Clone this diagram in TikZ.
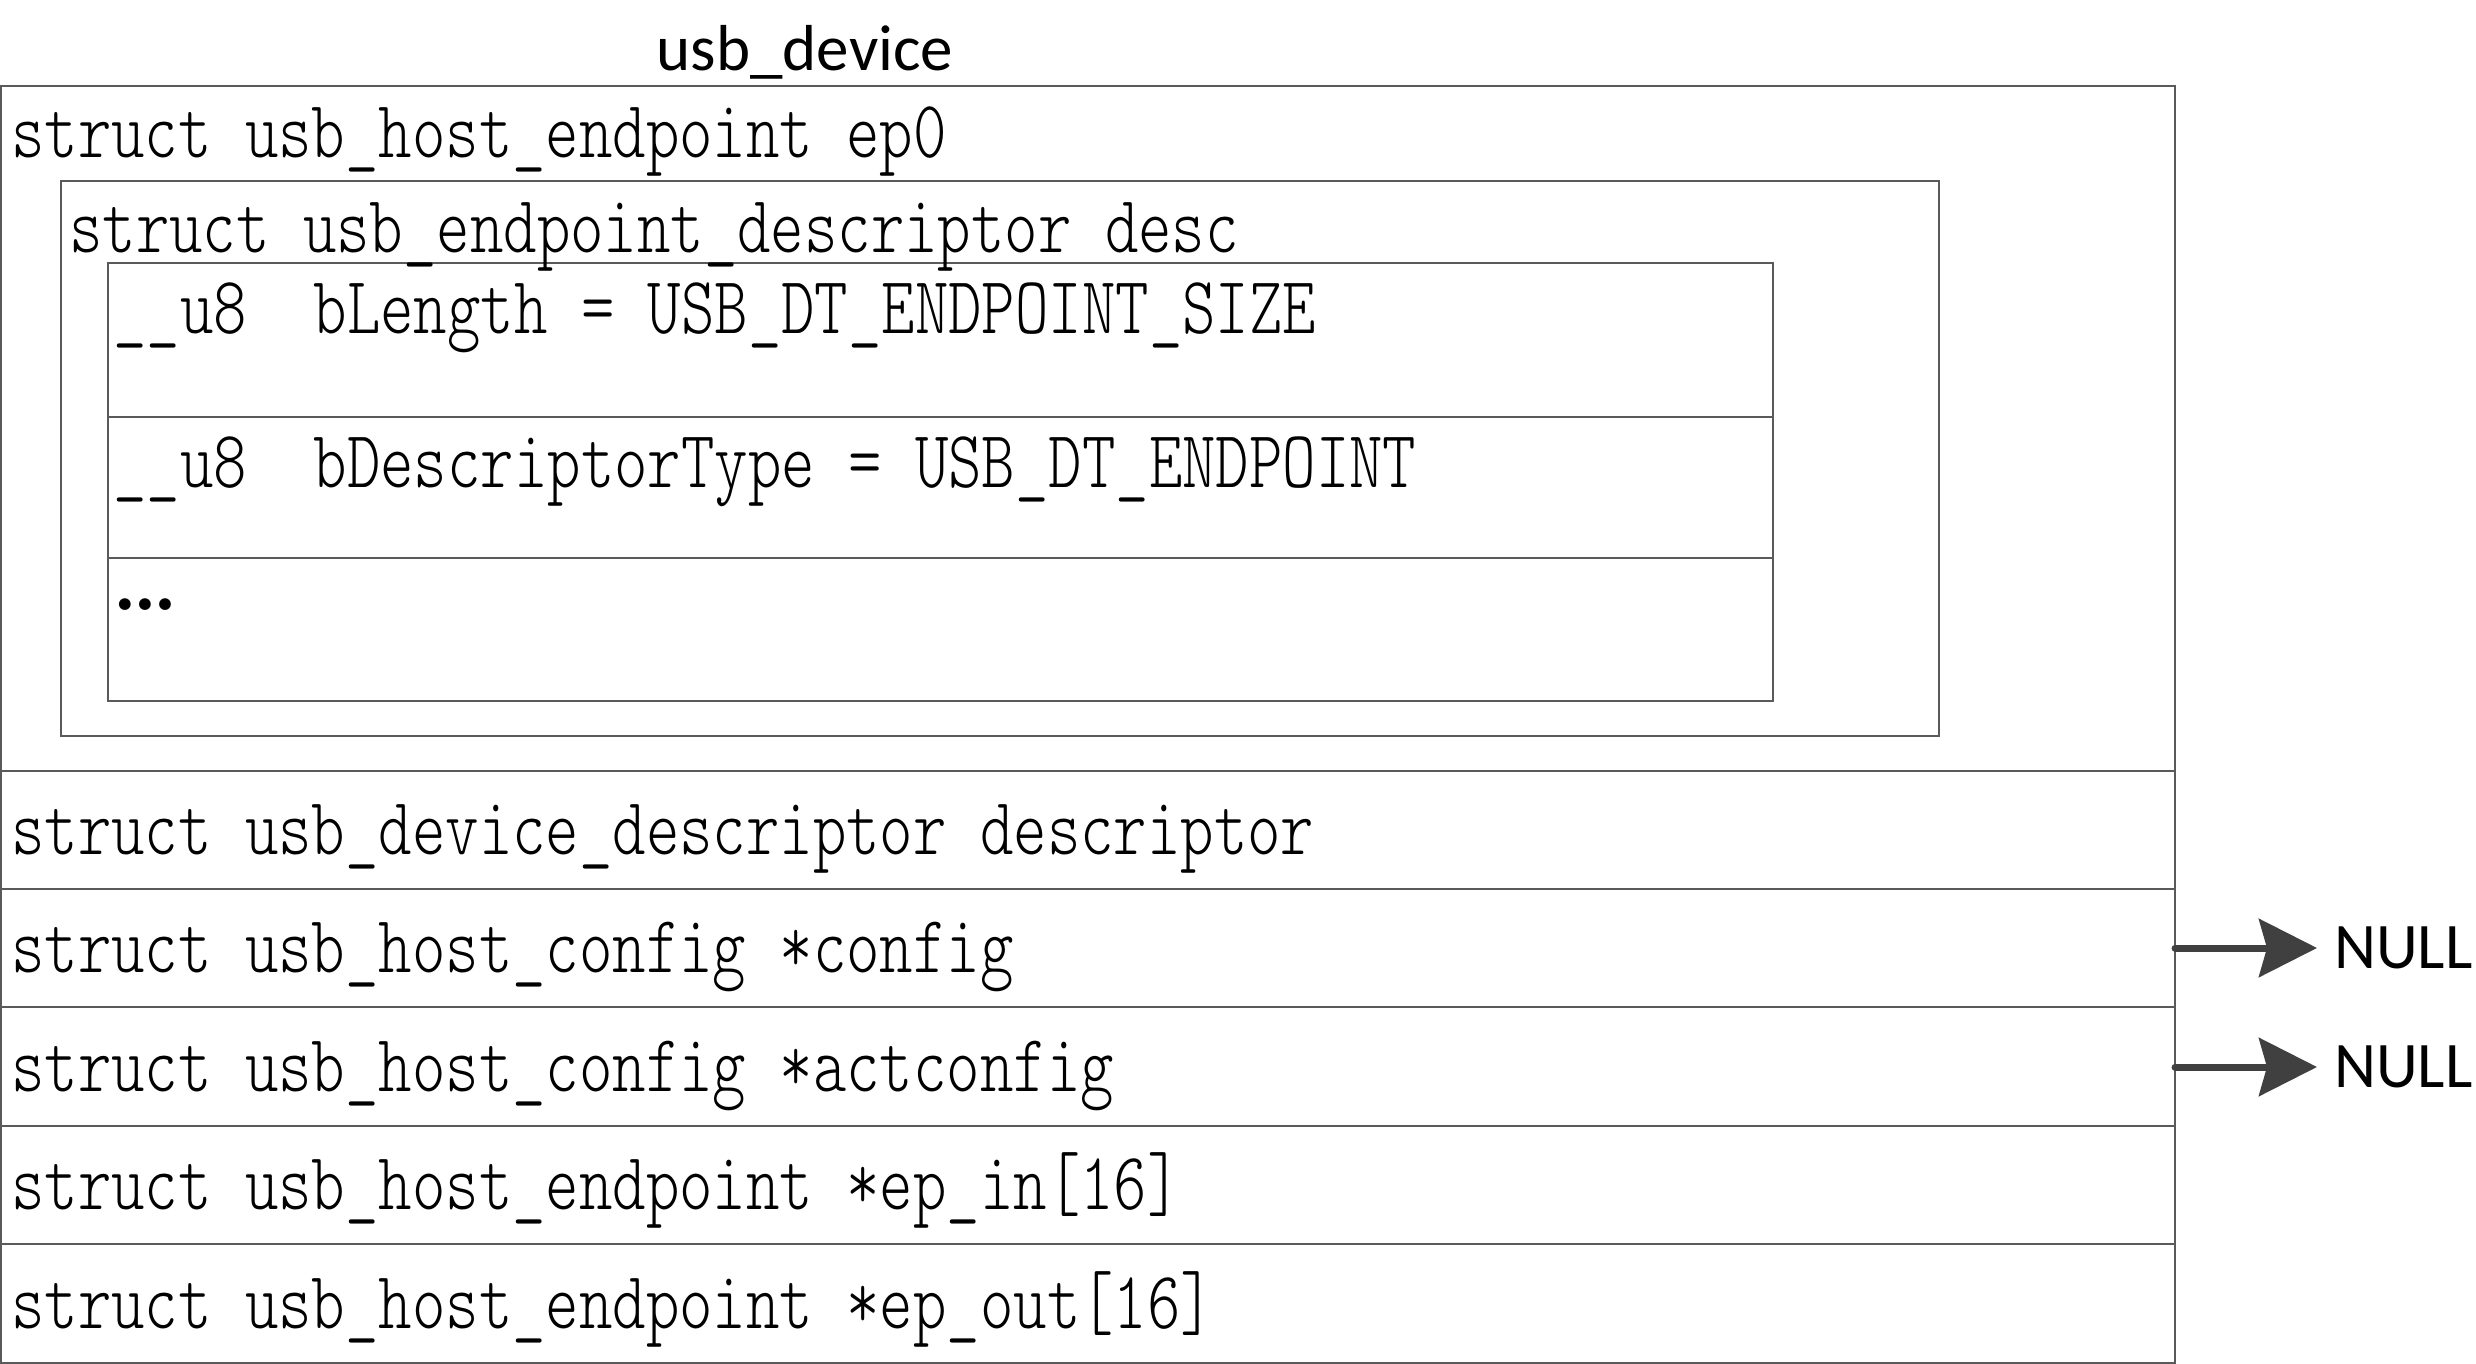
\documentclass[tikz,border=0pt]{standalone}
\usepackage{fontspec}
\usetikzlibrary{arrows.meta}
\newfontfamily\titlefont{Carlito}
\newfontfamily\codefont{lmmonolt10-regular.otf}[FakeStretch=0.78]
\definecolor{boxline}{HTML}{5A5A5A}
\definecolor{arrowcol}{HTML}{404040}
\begin{document}
\begin{tikzpicture}[x=1pt, y=-1pt,
  box/.style={draw=boxline, line width=2pt},
  code/.style={anchor=base west, inner sep=0pt, font=\codefont\fontsize{81.6}{90}\selectfont},
  sanslabel/.style={inner sep=0pt, font=\titlefont\fontsize{65}{75}\selectfont},
  nullarrow/.style={draw=arrowcol, line width=7pt, line cap=round, shorten >=17pt,
    -{Stealth[length=58pt, width=58pt, inset=8pt]}}]
\useasboundingbox (0,0) rectangle (2476,1364);
% outer struct usb_device
\draw[box] (1,86) rectangle (2175,1363);
\foreach \yy in {771,889,1007,1126,1244} \draw[box] (1,\yy) -- (2175,\yy);
% desc box
\draw[box] (61,181) rectangle (1939,736);
% inner fields
\draw[box] (108,263) rectangle (1773,701);
\draw[box] (108,417) -- (1773,417);
\draw[box] (108,558) -- (1773,558);
% texts
\node[sanslabel, anchor=base] (title) at (805,71) {usb\_device};
\node[code] (ep0) at (11,158) {struct usb\_host\_endpoint ep0};
\node[code] (desc) at (69,253) {struct usb\_endpoint\_descriptor desc};
\node[code] (blen) at (113,334) {\_\_u8~~bLength = USB\_DT\_ENDPOINT\_SIZE};
\node[code] (btype) at (113,487) {\_\_u8~~bDescriptorType = USB\_DT\_ENDPOINT};
\node[anchor=base west, inner sep=0pt, font=\bfseries\fontsize{82}{90}\selectfont] (dots) at (112,610) {\textellipsis};
\node[code] (devdesc) at (11,854) {struct usb\_device\_descriptor descriptor};
\node[code] (config) at (11,972) {struct usb\_host\_config *config};
\node[code] (actconfig) at (11,1091) {struct usb\_host\_config *actconfig};
\node[code] (epin) at (11,1209) {struct usb\_host\_endpoint *ep\_in[16]};
\node[code] (epout) at (11,1328) {struct usb\_host\_endpoint *ep\_out[16]};
% NULL pointers
\node[sanslabel, anchor=west] (null1) at (2334,948) {NULL};
\node[sanslabel, anchor=west] (null2) at (2334,1067) {NULL};
\coordinate (cfgptr) at (2175,948);
\coordinate (actptr) at (2175,1067);
\draw[nullarrow] (cfgptr) -- (null1.west);
\draw[nullarrow] (actptr) -- (null2.west);
\end{tikzpicture}
\end{document}
